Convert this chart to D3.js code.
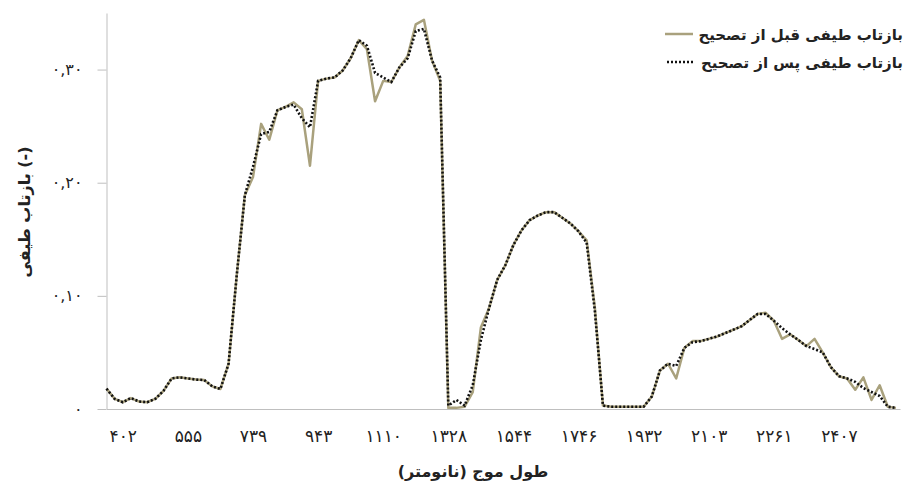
<!DOCTYPE html>
<html>
<head>
<meta charset="utf-8">
<script src="https://cdn.jsdelivr.net/npm/d3@7"></script>
<style>
  body { margin: 0; background: #fff; }
  text { font-family: "DejaVu Sans", sans-serif; }
</style>
</head>
<body>
<svg id="chart"></svg>
<script>
// reflectance after correction (dotted) - one value per band index
var afterValues = [
  0.018, 0.009, 0.006, 0.0097, 0.0066, 0.006, 0.009, 0.016, 0.027, 0.028,
  0.027, 0.026, 0.0256, 0.020, 0.0177, 0.040, 0.118, 0.189, 0.214, 0.243,
  0.245, 0.264, 0.267, 0.269, 0.257, 0.249, 0.290, 0.292, 0.293, 0.299,
  0.310, 0.326, 0.321, 0.297, 0.293, 0.289, 0.302, 0.310, 0.334, 0.336,
  0.308, 0.293, 0.003, 0.008, 0.003, 0.021, 0.061, 0.089, 0.114, 0.127,
  0.145, 0.158, 0.167, 0.171, 0.174, 0.174, 0.169, 0.164, 0.157, 0.147,
  0.087, 0.003, 0.002, 0.002, 0.002, 0.002, 0.002, 0.011, 0.034, 0.040,
  0.038, 0.054, 0.059, 0.060, 0.062, 0.064, 0.067, 0.070, 0.073, 0.0785,
  0.084, 0.084, 0.078, 0.0715, 0.066, 0.061, 0.0556, 0.053, 0.050, 0.037,
  0.029, 0.027, 0.024, 0.0185, 0.015, 0.0115, 0.002, 0.001
];

// reflectance before correction (solid olive)
var beforeValues = [
  0.018, 0.009, 0.006, 0.0097, 0.0066, 0.006, 0.009, 0.016, 0.027, 0.028,
  0.027, 0.026, 0.0256, 0.020, 0.0177, 0.040, 0.118, 0.189, 0.205, 0.252,
  0.238, 0.264, 0.267, 0.271, 0.265, 0.215, 0.290, 0.292, 0.293, 0.299,
  0.310, 0.326, 0.318, 0.272, 0.290, 0.289, 0.302, 0.312, 0.340, 0.344,
  0.308, 0.290, 0.001, 0.001, 0.002, 0.015, 0.072, 0.089, 0.114, 0.127,
  0.145, 0.158, 0.167, 0.171, 0.174, 0.174, 0.169, 0.164, 0.157, 0.149,
  0.090, 0.003, 0.002, 0.002, 0.002, 0.002, 0.002, 0.011, 0.034, 0.040,
  0.027, 0.054, 0.060, 0.060, 0.062, 0.064, 0.067, 0.070, 0.073, 0.0785,
  0.084, 0.085, 0.078, 0.062, 0.066, 0.061, 0.0556, 0.062, 0.050, 0.037,
  0.029, 0.027, 0.017, 0.028, 0.008, 0.021, 0.002, 0.001
];

// wavelength labels (nm) shown under every 8th band
var tickIndex = [2, 10, 18, 26, 34, 42, 50, 58, 66, 74, 82, 90];
var tickLabels = ['۴۰۲', '۵۵۵', '۷۳۹', '۹۴۳', '۱۱۱۰', '۱۳۲۸', '۱۵۴۴', '۱۷۴۶', '۱۹۳۲', '۲۱۰۳', '۲۲۶۱', '۲۴۰۷'];

var yTicks = [0, 0.1, 0.2, 0.3];
var yTickLabels = ['۰', '۰,۱۰', '۰,۲۰', '۰,۳۰'];

var seriesNames = ['بازتاب طیفی قبل از تصحیح', 'بازتاب طیفی پس از تصحیح'];

var width = 912;
var height = 488;

var svg = d3.select('#chart')
  .attr('width', width)
  .attr('height', height);

var x = d3.scaleLinear()
  .domain([0, 97.5])
  .range([106.5, 900]);

var y = d3.scaleLinear()
  .domain([0, 0.35])
  .range([409, 13]);

// y axis
var yAxis = svg.append('g')
  .attr('transform', 'translate(106.5,0)')
  .call(d3.axisLeft(y)
    .tickValues(yTicks)
    .tickSize(9)
    .tickSizeOuter(0)
    .tickPadding(15)
    .tickFormat(function (d, i) { return yTickLabels[i]; }));

yAxis.selectAll('path, line').attr('stroke', '#bfbfbf');
yAxis.selectAll('text').attr('font-size', 16).attr('fill', '#222');

// x axis (labels only, no tick marks)
var xAxis = svg.append('g')
  .attr('transform', 'translate(0,409)')
  .call(d3.axisBottom(x)
    .tickValues(tickIndex)
    .tickSize(0)
    .tickSizeOuter(0)
    .tickPadding(21)
    .tickFormat(function (d, i) { return tickLabels[i]; }));

xAxis.select('.domain').attr('stroke', '#bfbfbf');
xAxis.selectAll('text').attr('font-size', 17).attr('fill', '#222');

var line = d3.line()
  .x(function (d, i) { return x(i); })
  .y(function (d) { return y(d); });

// before correction
svg.append('path')
  .datum(beforeValues)
  .attr('d', line)
  .attr('fill', 'none')
  .attr('stroke', '#a9a17d')
  .attr('stroke-width', 2.5)
  .attr('stroke-linejoin', 'round');

// after correction
svg.append('path')
  .datum(afterValues)
  .attr('d', line)
  .attr('fill', 'none')
  .attr('stroke', '#111')
  .attr('stroke-width', 2.6)
  .attr('stroke-dasharray', '2,2');

// axis titles
svg.append('text')
  .attr('x', 473)
  .attr('y', 477)
  .attr('text-anchor', 'middle')
  .attr('font-size', 16)
  .attr('font-weight', 'bold')
  .attr('fill', '#222')
  .text('طول موج (نانومتر)');

svg.append('text')
  .attr('transform', 'translate(30,212) rotate(-90)')
  .attr('text-anchor', 'middle')
  .attr('font-size', 16)
  .attr('font-weight', 'bold')
  .attr('fill', '#222')
  .text('بازتاب طیفی (-)');

// legend
var legend = svg.append('g');
var legendY = [34, 62];

legend.selectAll('text')
  .data(seriesNames)
  .enter()
    .append('text')
    .attr('x', 903)
    .attr('y', function (d, i) { return legendY[i] + 6; })
    .attr('text-anchor', 'end')
    .attr('font-size', 15)
    .attr('font-weight', 'bold')
    .attr('fill', '#222')
    .text(function (d) { return d; });

legend.append('line')
  .attr('x1', 665).attr('x2', 693)
  .attr('y1', legendY[0]).attr('y2', legendY[0])
  .attr('stroke', '#a9a17d')
  .attr('stroke-width', 2.5);

legend.append('line')
  .attr('x1', 667).attr('x2', 693)
  .attr('y1', legendY[1]).attr('y2', legendY[1])
  .attr('stroke', '#111')
  .attr('stroke-width', 2.6)
  .attr('stroke-dasharray', '2,2');
</script>
</body>
</html>
